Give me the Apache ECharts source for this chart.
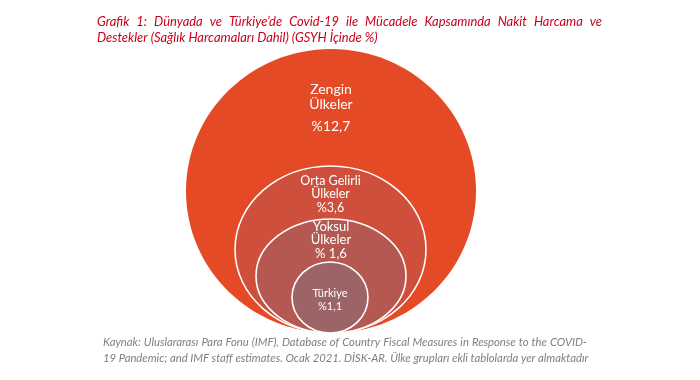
<!DOCTYPE html>
<html><head><meta charset="utf-8">
<script src="https://cdn.jsdelivr.net/npm/echarts@6/dist/echarts.min.js"></script>
<style>html,body{margin:0;padding:0;background:#fff}#c{width:700px;height:380px}</style>
</head><body><div id="c"></div>
<script>
// ---- data ----
const categories = ['Zengin Ülkeler', 'Orta Gelirli Ülkeler', 'Yoksul Ülkeler', 'Türkiye'];
const nameLines = [['Zengin', 'Ülkeler'], ['Orta Gelirli', 'Ülkeler'], ['Yoksul', 'Ülkeler'], ['Türkiye']];
const values = [12.7, 3.6, 1.6, 1.1];
const valueLabels = ['%12,7', '%3,6', '% 1,6', '%1,1'];
const titleLines = ['Grafik 1: Dünyada ve Türkiye’de Covid-19 ile Mücadele Kapsamında Nakit Harcama ve',
  'Destekler (Sağlık Harcamaları Dahil) (GSYH İçinde %)'];
const sourceLines = ['Kaynak: Uluslararası Para Fonu (IMF), Database of Country Fiscal Measures in Response to the COVID-',
  '19 Pandemic; and IMF staff estimates. Ocak 2021. DİSK-AR. Ülke grupları ekli tablolarda yer almaktadır'];

// ---- layout / style (not data) ----
const rings = [
  {cx: 331, cy: 191, rx: 145, ry: 142, fill: '#E44A25', stroke: null, font: 14, ys: [89, 104, 126]},
  {cx: 330.5, cy: 249.5, rx: 95.5, ry: 83.5, fill: '#CD4F3C', stroke: '#fff', font: 12.5, ys: [181, 194, 208]},
  {cx: 331, cy: 276, rx: 75, ry: 57, fill: '#B55852', stroke: '#fff', font: 13, ys: [227, 240, 254]},
  {cx: 330, cy: 297.5, rx: 38, ry: 35.5, fill: '#9C6467', stroke: '#fff', font: 11, ys: [293, 306]}
];
const FAMILY = 'Lato, "Open Sans", sans-serif';

const ctx = document.createElement('canvas').getContext('2d');
function measure(text, font) { ctx.font = font; return ctx.measureText(text).width; }
function fitSize(text, width, style) {
  return 100 * width / measure(text, style + ' 100px ' + FAMILY);
}
function justified(text, x0, x1, y, size, style, color) {
  const font = style + ' ' + size + 'px ' + FAMILY;
  const words = text.split(' ');
  const ws = words.map(w => measure(w, font));
  const total = ws.reduce((a, b) => a + b, 0);
  const gap = (x1 - x0 - total) / (words.length - 1);
  let x = x0;
  return words.map((w, i) => {
    const el = {type: 'text', x: x, y: y, style: {text: w, font: font, fill: color, verticalAlign: 'middle', align: 'left'}, silent: true};
    x += ws[i] + gap;
    return el;
  });
}
function plain(text, x, y, size, style, color) {
  return {type: 'text', x: x, y: y, style: {text: text, font: style + ' ' + size + 'px ' + FAMILY, fill: color, verticalAlign: 'middle', align: 'left'}, silent: true};
}

const titleSize = fitSize(titleLines[1], 281, 'italic');
const srcSize = fitSize(sourceLines[1], 486, 'italic');
const TITLE_COLOR = '#C8001E';
const SRC_COLOR = '#7F7F7F';
const graphics = [].concat(
  justified(titleLines[0], 97, 602, 22, titleSize, 'italic', TITLE_COLOR),
  [plain(titleLines[1], 97, 38, titleSize, 'italic', TITLE_COLOR)],
  justified(sourceLines[0], 103, 587, 342, srcSize, 'italic', SRC_COLOR),
  [plain(sourceLines[1], 103, 358, srcSize, 'italic', SRC_COLOR)]
);

const chart = echarts.init(document.getElementById('c'), null, {renderer: 'canvas'});
chart.setOption({
  animation: false,
  backgroundColor: '#fff',
  grid: {left: 0, right: 0, top: 0, bottom: 0},
  xAxis: {type: 'value', min: 0, max: 700, show: false},
  yAxis: {type: 'value', min: 0, max: 380, inverse: true, show: false},
  graphic: graphics,
  series: [{
    type: 'custom',
    name: 'GSYH İçinde %',
    data: categories.map((c, i) => ({name: c, value: [i, values[i]]})),
    renderItem: function (params, api) {
      const i = params.dataIndex;
      const r = rings[i];
      const c = api.coord([r.cx, r.cy]);
      const s = api.size([r.rx, r.ry]);
      const lines = nameLines[i].concat([valueLabels[i]]);
      const children = [{
        type: 'ellipse',
        shape: {cx: c[0], cy: c[1], rx: s[0], ry: s[1]},
        style: {fill: r.fill, stroke: r.stroke || 'none', lineWidth: r.stroke ? 1.6 : 0}
      }];
      lines.forEach((t, k) => {
        const p = api.coord([r.cx, r.ys[k]]);
        children.push({
          type: 'text',
          style: {text: t, x: p[0], y: p[1], fill: '#fff', font: r.font + 'px ' + FAMILY, align: 'center', verticalAlign: 'middle'}
        });
      });
      return {type: 'group', children: children};
    }
  }]
});
</script>
</body></html>
